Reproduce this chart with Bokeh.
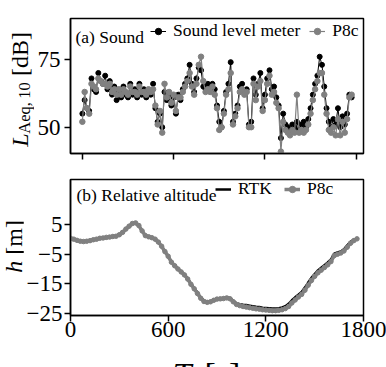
from bokeh.plotting import figure
from bokeh.models import Range1d, FixedTicker, Legend, LegendItem, Label, Div
from bokeh.layouts import column, row
from bokeh.embed import file_html
from bokeh.resources import INLINE

SERIF = "Liberation Serif"
BLACK = "#000000"
GREY = "#808080"

# ---------------- data: (a) sound level, 15 s samples ----------------
sound_time = list(range(0, 1771, 15))
sound_slm = [
    55, 60, 57, 56, 68, 64, 63, 70, 67, 66,
    69, 64, 67, 62, 65, 60, 63, 61, 65, 62,
    61, 66, 62, 64, 61, 66, 62, 64, 61, 63,
    62, 66, 57, 52, 55, 50, 63, 60, 62, 58,
    61, 55, 62, 60, 64, 66, 68, 73, 66, 63,
    68, 72, 71, 65, 64, 66, 65, 66, 64, 58,
    52, 50, 56, 63, 66, 74, 52, 55, 58, 65,
    66, 63, 64, 51, 52, 68, 62, 66, 70, 57,
    62, 68, 71, 64, 65, 61, 58, 46, 55, 51,
    50, 49, 51, 50, 52, 49, 51, 52, 50, 53,
    57, 62, 66, 69, 76, 73, 65, 57, 52, 50,
    53, 51, 57, 50, 54, 51, 55, 62, 61,
]
sound_p8c = [
    52, 63, 57, 55, 66, 65, 64, 68, 67, 66,
    66, 65, 66, 63, 64, 62, 64, 62, 64, 63,
    62, 65, 63, 63, 62, 65, 63, 63, 62, 64,
    63, 64, 58, 51, 56, 48, 66, 61, 63, 59,
    62, 56, 61, 61, 63, 65, 67, 70, 65, 62,
    66, 73, 76, 67, 63, 64, 63, 65, 62, 57,
    49, 50, 55, 62, 64, 70, 51, 54, 57, 63,
    64, 62, 63, 50, 50, 66, 60, 65, 67, 56,
    60, 66, 69, 62, 63, 59, 57, 41, 52, 49,
    48, 47, 49, 48, 62, 48, 49, 48, 49, 51,
    55, 60, 64, 67, 70, 70, 62, 55, 49, 48,
    50, 47, 53, 47, 52, 48, 53, 61, 62,
]

# ---------------- data: (b) relative altitude, 20 s samples ----------------
alt_time = list(range(0, 1761, 20))
alt_rtk = [
    0.3, 0.0, -0.3, -0.5, -0.7, -0.6, -0.4, -0.2, 0.1, 0.3,
    0.5, 0.7, 0.8, 0.9, 1.2, 1.5, 2.3, 3.4, 4.4, 5.3,
    5.5, 4.6, 2.8, 1.2, 0.8, 0.5, 0.0, -1.0, -2.4, -4.2,
    -5.6, -7.6, -8.8, -9.8, -10.8, -11.8, -13.2, -15.0, -16.5, -18.0,
    -19.6, -20.7, -21.0, -20.9, -20.4, -20.0, -19.9, -19.8, -19.6, -19.8,
    -20.8, -21.6, -21.9, -22.1, -22.2, -22.4, -22.6, -22.8, -22.9, -23.1,
    -23.2, -23.3, -23.4, -23.4, -23.3, -23.0, -22.6, -21.8, -20.6, -19.6,
    -18.7, -17.8, -16.3, -14.6, -13.0, -11.7, -10.5, -9.6, -8.7, -7.8,
    -6.8, -4.8, -4.4, -4.1, -3.3, -2.0, -0.8, -0.1, 0.1,
]
alt_p8c = [
    0.4, 0.1, -0.3, -0.6, -0.7, -0.6, -0.4, -0.1, 0.1, 0.4,
    0.5, 0.7, 0.8, 1.0, 1.1, 1.6, 2.4, 3.5, 4.5, 5.4,
    5.6, 4.7, 2.9, 1.3, 0.9, 0.6, 0.1, -0.9, -2.3, -4.1,
    -5.7, -7.7, -8.9, -10.0, -11.0, -12.0, -13.4, -15.2, -16.7, -18.3,
    -19.9, -21.0, -21.3, -21.1, -20.6, -20.2, -20.1, -20.0, -19.8, -20.1,
    -21.1, -22.0, -22.4, -22.7, -22.9, -23.1, -23.3, -23.5, -23.6, -23.8,
    -23.9, -24.0, -24.1, -24.1, -24.0, -23.8, -23.4, -22.7, -21.5, -20.5,
    -19.5, -18.6, -17.2, -15.5, -13.9, -12.5, -11.3, -10.4, -9.5, -8.6,
    -7.5, -5.5, -5.0, -4.6, -3.9, -2.6, -1.3, -0.4, 0.2,
]

x_ticks = [0, 600, 1200, 1800]
top_y_ticks = [50, 75]
bot_y_ticks = [-25, -15, -5, 5]
bot_y_labels = {-25: "\u221225", -15: "\u221215", -5: "\u22125", 5: "5"}


def style(p, y_standoff):
    p.outline_line_color = "black"
    p.outline_line_width = 1.5
    p.outline_line_alpha = 1.0
    p.xgrid.visible = False
    p.ygrid.visible = False
    p.background_fill_color = "white"
    p.border_fill_color = "white"
    for ax in (p.xaxis[0], p.yaxis[0]):
        ax.axis_line_width = 1.5
        ax.axis_line_color = "black"
        ax.major_tick_line_width = 1.5
        ax.major_tick_line_color = "black"
        ax.major_tick_out = 6
        ax.major_tick_in = 0
        ax.minor_tick_out = 0
        ax.minor_tick_in = 0
        ax.major_label_text_font = SERIF
        ax.major_label_text_font_size = "23px"
        ax.major_label_text_color = "black"
    p.xaxis[0].major_label_standoff = 0
    p.yaxis[0].major_label_standoff = y_standoff


def blank(width, height):
    """A figure with no axes whose frame fills the canvas (text holder)."""
    f = figure(width=width, height=height, x_range=Range1d(0, 1), y_range=Range1d(0, 1),
               x_axis_location=None, y_axis_location=None, output_backend="svg",
               toolbar_location=None, min_border=0, min_border_left=0,
               min_border_right=0, min_border_top=0, min_border_bottom=0)
    f.outline_line_color = None
    f.xgrid.visible = False
    f.ygrid.visible = False
    f.background_fill_color = "white"
    f.border_fill_color = "white"
    return f


def txt(p, text, x, y, size, italic=False):
    p.add_layout(Label(x=x, y=y, x_units="screen", y_units="screen", text=text,
                       text_font=SERIF, text_font_size=size,
                       text_font_style="italic" if italic else "normal",
                       text_color="black", text_align="left",
                       text_baseline="alphabetic"))


def vertical_title(html, width, height, left, start):
    """Axis title reading bottom-to-top, as real HTML text.
    `start` is the distance of the text's first letter from the top."""
    return Div(text=(
        f'<div style="position:relative;width:{width}px;height:{height}px;'
        f'font-family:\'Liberation Serif\',serif;color:#000;">'
        f'<div style="position:absolute;left:{left}px;bottom:{height - start}px;'
        f'writing-mode:vertical-rl;transform:rotate(180deg);white-space:nowrap;'
        f'font-size:24px;line-height:24px;">{html}</div></div>'),
        width=width, height=height, margin=0)


def make_legend(items, x, y, spacing):
    return Legend(items=items, location=(x, y), orientation="horizontal",
                  border_line_color=None, background_fill_alpha=0.0,
                  padding=0, margin=0, spacing=spacing, glyph_width=16,
                  glyph_height=16, label_height=16, label_standoff=7,
                  label_text_font=SERIF, label_text_font_size="17.5px",
                  label_text_color="black")


# ---------------- panel (a) ----------------
p1 = figure(width=352, height=168, x_range=Range1d(-78, 1848),
            y_range=Range1d(40.3, 90.1), output_backend="svg",
            toolbar_location=None, min_border_left=33, min_border_right=23,
            min_border_top=18, min_border_bottom=15)
style(p1, 4)
p1.xaxis.ticker = FixedTicker(ticks=x_ticks, minor_ticks=[])
p1.xaxis.major_label_overrides = {t: "" for t in x_ticks}
p1.xaxis.major_label_text_font_size = "0px"
p1.yaxis.ticker = FixedTicker(ticks=top_y_ticks, minor_ticks=[])

a_l1 = p1.line(sound_time, sound_slm, line_color=BLACK, line_width=1)
a_s1 = p1.scatter(sound_time, sound_slm, size=5, fill_color=BLACK, line_color=BLACK)
a_l2 = p1.line(sound_time, sound_p8c, line_color=GREY, line_width=1.2)
a_s2 = p1.scatter(sound_time, sound_p8c, size=5.5, fill_color=GREY, line_color=GREY)

p1.add_layout(make_legend([
    LegendItem(label="Sound level meter", renderers=[a_l1, a_s1]),
    LegendItem(label="P8c", renderers=[a_l2, a_s2]),
], 80, 112, 9))
txt(p1, "(a) Sound", 5, 117, "17.5px")

la = vertical_title(
    '<i>L</i><span style="font-size:16.5px;position:relative;left:-5px;">Aeq,&#8201;10</span> [dB]',
    34, 168, 8, 147)

# ---------------- panel (b) ----------------
p2 = figure(width=363, height=180, x_range=Range1d(0, 1800),
            y_range=Range1d(-25.75, 20.3), output_backend="svg",
            toolbar_location=None, min_border_left=44, min_border_right=23,
            min_border_top=11, min_border_bottom=33)
style(p2, 2)
p2.xaxis.ticker = FixedTicker(ticks=x_ticks, minor_ticks=[])
p2.yaxis.ticker = FixedTicker(ticks=bot_y_ticks, minor_ticks=[])
p2.yaxis.major_label_overrides = bot_y_labels

b_l1 = p2.line(alt_time, alt_rtk, line_color=BLACK, line_width=2.5)
b_l2 = p2.line(alt_time, alt_p8c, line_color=GREY, line_width=3.5)
b_s2 = p2.scatter(alt_time, alt_p8c, size=4.5, fill_color=GREY, line_color=GREY)

p2.add_layout(make_legend([
    LegendItem(label="RTK", renderers=[b_l1]),
    LegendItem(label="P8c", renderers=[b_l2, b_s2]),
], 145, 116, 12))
txt(p2, "(b) Relative altitude", 6, 121, "17.5px")

lb = vertical_title('<i>h</i> [m]', 23, 180, 2, 105)

# x-axis title (cut by the bottom edge, as in the original)
xl = blank(386, 19)
txt(xl, "T", 172, -7, "34px", italic=True)
txt(xl, "[s]", 204, -7, "34px")

layout = column(row(la, p1, spacing=0), row(lb, p2, spacing=0), xl, spacing=0)
open("out.html", "w").write(file_html(layout, INLINE))
